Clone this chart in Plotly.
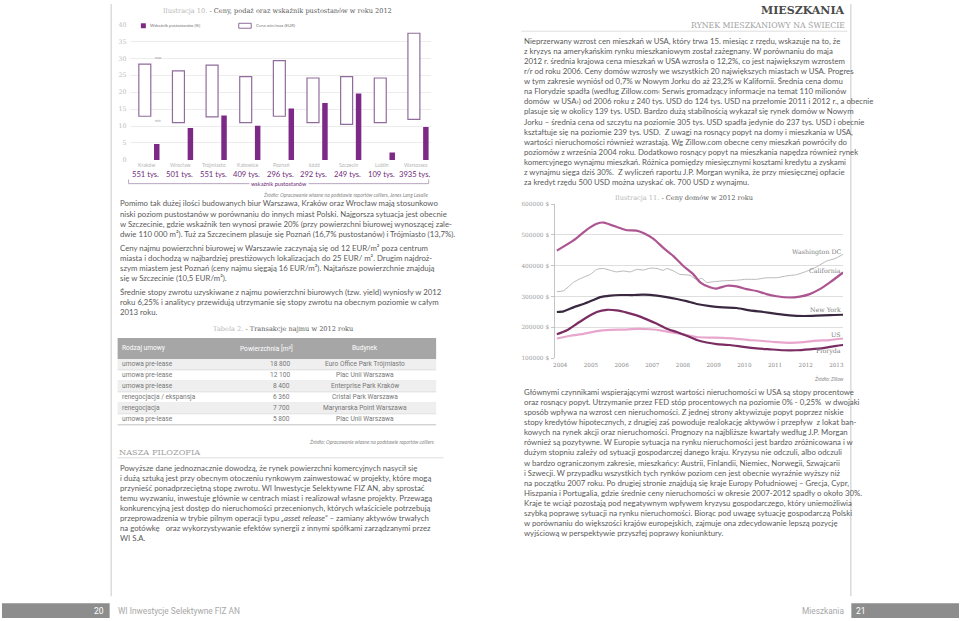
import plotly.graph_objects as go

W, H = 960, 621
SERIF = "DejaVu Serif"
BODY = "Lato"
NARROW = "Liberation Sans Narrow, Roboto, sans-serif"
TXT = "#5a5a5a"

# ---------------- Chart 1 data ----------------
cities = ["Kraków", "Wrocław", "Trójmiasto", "Katowice", "Poznań", "Łódź", "Szczecin", "Lublin", "Warszawa"]
supply = ["551 tys.", "501 tys.", "551 tys.", "409 tys.", "296 tys.", "292 tys.", "249 tys.", "109 tys.", "3935 tys."]
price_min = [12.9, 11.0, 12.7, 11.0, 12.9, 11.0, 10.5, 11.0, 12.0]
price_max = [28.3, 26.3, 28.0, 24.6, 29.3, 24.2, 24.6, 24.2, 37.4]
vacancy = [4.7, 9.4, 13.1, 10.1, 15.2, 16.8, 19.6, 2.2, 9.7]
y1_ticks = [0, 5, 10, 15, 20, 25, 30, 35, 40]

# ---------------- Chart 2 data ----------------
years = [2004, 2005, 2006, 2007, 2008, 2009, 2010, 2011, 2012, 2013]
price_ticks = [100000, 200000, 300000, 400000, 500000, 600000]

cal_x = [2003.89, 2004.43, 2004.87, 2005.19, 2005.41, 2005.95, 2006.17, 2006.49, 2006.71, 2007.04,
         2007.36, 2007.69, 2008.01, 2008.34, 2008.56, 2008.88, 2009.10, 2009.42, 2009.75, 2010.07,
         2010.40, 2010.72, 2011.05, 2011.48, 2011.81, 2012.13, 2012.46, 2012.79, 2013.22]
cal_y = [449, 482, 517, 536, 540, 522, 515, 514, 506, 487,
         458, 431, 399, 372, 346, 330, 326, 335, 333, 324,
         318, 308, 301, 297, 300, 308, 324, 346, 378]

dc_x = [2003.89, 2004.11, 2004.43, 2004.65, 2004.98, 2005.19, 2005.41, 2005.63, 2005.84, 2006.06,
        2006.28, 2006.49, 2006.71, 2006.93, 2007.15, 2007.36, 2007.47, 2007.69, 2007.90, 2008.23,
        2008.45, 2008.61, 2008.77, 2008.99, 2009.31, 2009.75, 2010.07, 2010.40, 2010.72, 2011.05,
        2011.38, 2011.70, 2012.03, 2012.35, 2012.68, 2012.95, 2013.22]
dc_y = [316, 319, 346, 358, 372, 388, 391, 385, 380, 383,
        380, 388, 386, 392, 391, 385, 391, 383, 372, 369,
        354, 359, 346, 348, 351, 353, 356, 356, 361, 361,
        367, 371, 382, 396, 415, 423, 437]

ny_x = [2003.89, 2004.11, 2004.43, 2004.76, 2005.08, 2005.30, 2005.63, 2005.95, 2006.39, 2006.71,
        2007.15, 2007.47, 2007.80, 2008.12, 2008.45, 2008.88, 2009.31, 2009.75, 2010.18, 2010.62,
        2011.05, 2011.48, 2011.92, 2012.35, 2012.79, 2013.22]
ny_y = [250, 252, 265, 276, 289, 298, 303, 305, 305, 306,
        303, 298, 292, 285, 276, 269, 265, 263, 255, 250,
        244, 239, 237, 238, 240, 241]

fl_x = [2003.89, 2004.22, 2004.54, 2004.87, 2005.19, 2005.52, 2005.84, 2006.17, 2006.49, 2006.82,
        2007.15, 2007.47, 2007.80, 2008.12, 2008.45, 2008.77, 2009.10, 2009.53, 2009.97, 2010.40,
        2010.83, 2011.27, 2011.70, 2012.13, 2012.57, 2013.00, 2013.22]
fl_y = [178, 191, 212, 233, 250, 257, 255, 248, 239, 226,
        212, 196, 185, 173, 159, 151, 146, 143, 137, 132,
        129, 126, 126, 129, 133, 140, 143]

us_x = [2003.89, 2004.33, 2004.76, 2005.19, 2005.63, 2006.06, 2006.49, 2006.93, 2007.36, 2007.80,
        2008.12, 2008.45, 2008.88, 2009.31, 2009.75, 2010.18, 2010.62, 2011.05, 2011.48, 2011.92,
        2012.35, 2012.79, 2013.22]
us_y = [164, 173, 179, 188, 192, 193, 195, 194, 189, 181,
        175, 169, 167, 166, 163, 159, 156, 152, 150, 152,
        157, 159, 164]

# ---------------- Table data ----------------
tab_header = ["Rodzaj umowy", "Powierzchnia [m²]", "Budynek"]
tab_type = ["umowa pre-lease", "umowa pre-lease", "umowa pre-lease", "renegocjacja / ekspansja",
            "renegocjacja", "umowa pre-lease"]
tab_area = ["18 800", "12 100", "8 400", "6 360", "7 700", "5 800"]
tab_building = ["Euro Office Park Trójmiasto", "Plac Unii Warszawa", "Enterprise Park Kraków",
                "Cristal Park Warszawa", "Marynarska Point Warszawa", "Plac Unii Warszawa"]

# ---------------- Text ----------------
left_p1 = ["Pomimo tak dużej ilości budowanych biur Warszawa, Kraków oraz Wrocław mają stosunkowo",
           "niski poziom pustostanów w porównaniu do innych miast Polski. Najgorsza sytuacja jest obecnie",
           "w Szczecinie, gdzie wskaźnik ten wynosi prawie 20% (przy powierzchni biurowej wynoszącej zale-",
           "dwie 110 000 m²). Tuż za Szczecinem plasuje się Poznań (16,7% pustostanów) i Trójmiasto (13,7%)."]
left_p2 = ["Ceny najmu powierzchni biurowej w Warszawie zaczynają się od 12 EUR/m² poza centrum",
           "miasta i dochodzą w najbardziej prestiżowych lokalizacjach do 25 EUR/ m². Drugim najdroż-",
           "szym miastem jest Poznań (ceny najmu sięgają 16 EUR/m²). Najtańsze powierzchnie znajdują",
           "się w Szczecinie (10,5 EUR/m²)."]
left_p3 = ["Średnie stopy zwrotu uzyskiwane z najmu powierzchni biurowych (tzw. yield) wyniosły w 2012",
           "roku 6,25% i analitycy przewidują utrzymanie się stopy zwrotu na obecnym poziomie w całym",
           "2013 roku."]
left_p4 = ["Powyższe dane jednoznacznie dowodzą, że rynek powierzchni komercyjnych nasycił się",
           "i dużą sztuką jest przy obecnym otoczeniu rynkowym zainwestować w projekty, które mogą",
           "przynieść ponadprzeciętną stopę zwrotu. WI Inwestycje Selektywne FIZ AN, aby sprostać",
           "temu wyzwaniu, inwestuje głównie w centrach miast i realizował własne projekty. Przewagą",
           "konkurencyjną jest dostęp do nieruchomości przecenionych, których właściciele potrzebują",
           "przeprowadzenia w trybie pilnym operacji typu <i>„asset release”</i> – zamiany aktywów trwałych",
           "na gotówkę   oraz wykorzystywanie efektów synergii z innymi spółkami zarządzanymi przez",
           "WI S.A."]
right_p1 = ["Nieprzerwany wzrost cen mieszkań w USA, który trwa 15. miesiąc z rzędu, wskazuje na to, że",
            "z kryzys na amerykańskim rynku mieszkaniowym został zażegnany. W porównaniu do maja",
            "2012 r. średnia krajowa cena mieszkań w USA wzrosła o 12,2%, co jest największym wzrostem",
            "r/r od roku 2006. Ceny domów wzrosły we wszystkich 20 największych miastach w USA. Progres",
            "w tym zakresie wyniósł od 0,7% w Nowym Jorku do aż 23,2% w Kalifornii. Średnia cena domu",
            "na Florydzie spadła (według Zillow.com‹ Serwis gromadzący informacje na temat 110 milionów",
            "domów  w USA›) od 2006 roku z 240 tys. USD do 124 tys. USD na przełomie 2011 i 2012 r., a obecnie",
            "plasuje się w okolicy 139 tys. USD. Bardzo dużą stabilnością wykazał się rynek domów w Nowym",
            "Jorku – średnia cena od szczytu na poziomie 305 tys. USD spadła jedynie do 237 tys. USD i obecnie",
            "kształtuje się na poziomie 239 tys. USD.  Z uwagi na rosnący popyt na domy i mieszkania w USA,",
            "wartości nieruchomości również wzrastają. Wg Zillow.com obecne ceny mieszkań powróciły do",
            "poziomów z września 2004 roku. Dodatkowo rosnący popyt na mieszkania napędza również rynek",
            "komercyjnego wynajmu mieszkań. Różnica pomiędzy miesięcznymi kosztami kredytu a zyskami",
            "z wynajmu sięga dziś 30%.  Z wyliczeń raportu J.P. Morgan wynika, że przy miesięcznej opłacie",
            "za kredyt rzędu 500 USD można uzyskać ok. 700 USD z wynajmu."]
right_p2 = ["Głównymi czynnikami wspierającymi wzrost wartości nieruchomości w USA są stopy procentowe",
            "oraz rosnący popyt. Utrzymanie przez FED stóp procentowych na poziomie 0% - 0,25%  w dwojaki",
            "sposób wpływa na wzrost cen nieruchomości. Z jednej strony aktywizuje popyt poprzez niskie",
            "stopy kredytów hipotecznych, z drugiej zaś powoduje realokację aktywów i przepływ  z lokat ban-",
            "kowych na rynek akcji oraz nieruchomości. Prognozy na najbliższe kwartały według J.P. Morgan",
            "również są pozytywne. W Europie sytuacja na rynku nieruchomości jest bardzo zróżnicowana i w",
            "dużym stopniu zależy od sytuacji gospodarczej danego kraju. Kryzysu nie odczuli, albo odczuli",
            "w bardzo ograniczonym zakresie, mieszkańcy: Austrii, Finlandii, Niemiec, Norwegii, Szwajcarii",
            "i Szwecji. W przypadku wszystkich tych rynków poziom cen jest obecnie wyraźnie wyższy niż",
            "na początku 2007 roku. Po drugiej stronie znajdują się kraje Europy Południowej – Grecja, Cypr,",
            "Hiszpania i Portugalia, gdzie średnie ceny nieruchomości w okresie 2007-2012 spadły o około 30%.",
            "Kraje te wciąż pozostają pod negatywnym wpływem kryzysu gospodarczego, który uniemożliwia",
            "szybką poprawę sytuacji na rynku nieruchomości. Biorąc pod uwagę sytuację gospodarczą Polski",
            "w porównaniu do większości krajów europejskich, zajmuje ona zdecydowanie lepszą pozycję",
            "wyjściową w perspektywie przyszłej poprawy koniunktury."]

BODY_SIZE = 7.8

annotations = []
shapes = []


def px(x):
    return x / W


def py(y):
    return 1 - y / H


def note(x, y, text, size, color, family=BODY, xanchor="left", **kw):
    d = dict(xref="paper", yref="paper", x=px(x), y=py(y), text=text, showarrow=False,
             xanchor=xanchor, yanchor="middle", font=dict(size=size, color=color, family=family))
    d.update(kw)
    annotations.append(d)


def para(lines, x, y0, dy, size=BODY_SIZE, color=TXT):
    for i, t in enumerate(lines):
        note(x, y0 + i * dy, t, size, color)


def hline(x0, x1, y, color, width=1):
    shapes.append(dict(type="line", xref="paper", yref="paper", x0=px(x0), x1=px(x1),
                       y0=py(y), y1=py(y), line=dict(color=color, width=width)))


def vline(x, y0, y1, color, width=1):
    shapes.append(dict(type="line", xref="paper", yref="paper", x0=px(x), x1=px(x),
                       y0=py(y0), y1=py(y1), line=dict(color=color, width=width)))


def rect(x0, x1, y0, y1, fill, line=None):
    shapes.append(dict(type="rect", xref="paper", yref="paper", x0=px(x0), x1=px(x1),
                       y0=py(y1), y1=py(y0), fillcolor=fill,
                       line=dict(color=line or fill, width=1 if line else 0)))


fig = go.Figure()

# ---------------- Chart 1 ----------------
BOX_W = 0.356
BAR_W = 0.163
fig.add_trace(go.Bar(
    x=cities, y=[mx - mn for mx, mn in zip(price_max, price_min)], base=price_min,
    width=BOX_W, offset=-BOX_W, marker=dict(color="white", line=dict(color="#8f6c9b", width=1.2)),
    xaxis="x", yaxis="y", showlegend=False, name="Cena min/max (EUR)"))
fig.add_trace(go.Bar(
    x=cities, y=vacancy, width=BAR_W, offset=0.096, marker=dict(color="#7c2a86", line=dict(width=0)),
    xaxis="x", yaxis="y", showlegend=False, name="Wskaźnik pustostanów (%)"))

for c, s in zip(cities, supply):
    annotations.append(dict(xref="x", yref="paper", x=c, y=py(163), xshift=-4, text=c, showarrow=False,
                            xanchor="center", yanchor="middle",
                            font=dict(size=5.2, color="#b5b5b5", family=BODY)))
    annotations.append(dict(xref="x", yref="paper", x=c, y=py(172), xshift=-5, text=s, showarrow=False,
                            xanchor="center", yanchor="middle",
                            font=dict(size=7.6, color="#6e2c78", family=BODY)))

annotations.append(dict(xref="x", yref="y", x=cities[0], y=price_max[0], xshift=2, yshift=2, text="max",
                        showarrow=False, xanchor="left", yanchor="bottom",
                        font=dict(size=3.5, color="#999", family=BODY)))
annotations.append(dict(xref="x", yref="y", x=cities[0], y=price_min[0], xshift=2, yshift=-1, text="min",
                        showarrow=False, xanchor="left", yanchor="top",
                        font=dict(size=3.5, color="#999", family=BODY)))

# legend (manual)
rect(139.3, 144.3, 19.5, 24.5, "#7c2a86")
note(146.5, 22, "Wskaźnik pustostanów (%)", 4.3, "#777")
rect(237.5, 250, 19.5, 24.5, "white", "#8f6c9b")
note(253, 22, "Cena min/max (EUR)", 4.3, "#777")

note(276, 7.5, "<span style='color:#b8b8b8'>Ilustracja 10.</span> - Ceny, podaż oraz wskaźnik pustostanów w roku 2012",
     6.6, "#5a5a5a", family=SERIF, xanchor="center")

# bracket
hline(127, 428, 181.7, "#b9a6c0", 1)
vline(127, 181.7, 177.5, "#b9a6c0", 1)
vline(428, 181.7, 177.5, "#b9a6c0", 1)
note(278, 181.5, "wskaźnik pustostanów", 5.6, "#6e2c78", xanchor="center", bgcolor="white", borderpad=1)
note(429, 192.5, "<i>Źródło: Opracowanie własne na podstawie raportów colliers, Jones Lang Lasalle</i>",
     5.0, "#888", xanchor="right")

# ---------------- Text left ----------------
para(left_p1, 116.5, 201.7, 10.2)
para(left_p2, 116.5, 246.6, 10.2)
para(left_p3, 116.5, 291.5, 10.2)

# ---------------- Table ----------------
note(282, 328.3, "<span style='color:#b8b8b8'>Tabela 2.</span> - Transakcje najmu w 2012 roku",
     6.6, "#5a5a5a", family=SERIF, xanchor="center")
TX0, TX1 = 116, 435.5
HEAD_TOP, HEAD_BOT = 337.7, 359.0
ROW_H = 11.1
col_x = [118.5, 291.0, 364.0]
col_anchor = ["left", "right", "center"]
rect(TX0, TX1, HEAD_TOP, HEAD_BOT, "#a6a6a6")
for hx, ha, ht in zip(col_x, col_anchor, tab_header):
    note(hx + (3 if ha == "right" else 0), (HEAD_TOP + HEAD_BOT) / 2, ht, 6.6, "white", family=NARROW, xanchor=ha)
for r in range(len(tab_type)):
    top = HEAD_BOT + r * ROW_H
    if r % 2 == 0:
        rect(TX0, TX1, top, top + ROW_H, "#efefef")
    hline(TX0, TX1, top + ROW_H, "#b0b0b0" if r == len(tab_type) - 1 else "#dadada", 0.8)
    for hx, ha, val in zip(col_x, col_anchor, [tab_type[r], tab_area[r], tab_building[r]]):
        note(hx, top + ROW_H / 2, val, 6.6, "#777777", family=NARROW, xanchor=ha)
note(435, 442.7, "<i>Źródło: Opracowanie własne na podstawie raportów colliers</i>", 5.0, "#888", xanchor="right")

note(115.5, 453, "NASZA FILOZOFIA", 8.2, "#a0a0a0", family=SERIF)
hline(116, 443, 459, "#dedede", 1)
para(left_p4, 116.5, 468.8, 10.15)

# ---------------- Right page ----------------
note(848, 6.5, "<b>MIESZKANIA</b>", 11, "#4a4a4a", family=SERIF, xanchor="right")
note(848, 21.5, "RYNEK MIESZKANIOWY NA ŚWIECIE", 7.8, "#a0a0a0", family=SERIF, xanchor="right")
hline(521, 848, 27.5, "#dedede", 1)
para(right_p1, 521.5, 37.3, 10.2)

note(684, 196.5, "<span style='color:#b8b8b8'>Ilustracja 11.</span> - Ceny domów w 2012 roku",
     6.6, "#5a5a5a", family=SERIF, xanchor="center")

series = [
    ("Washington DC", dc_x, dc_y, "#b8b8b8", 1.0, 445),
    ("US", us_x, us_y, "#e8a6cd", 2.2, 177),
    ("Floryda", fl_x, fl_y, "#7b2c62", 2.2, 125),
    ("New York", ny_x, ny_y, "#3a2840", 2.2, 258),
    ("California", cal_x, cal_y, "#ad5591", 2.2, 385),
]
for name, xs, ys, col, w, lab_y in series:
    fig.add_trace(go.Scatter(x=xs, y=[v * 1000 for v in ys], mode="lines", name=name,
                             line=dict(color=col, width=w, shape="spline", smoothing=0.6),
                             xaxis="x2", yaxis="y2", showlegend=False))
    annotations.append(dict(xref="x2", yref="y2", x=2013.21, y=lab_y * 1000, text=name, showarrow=False,
                            xanchor="right", yanchor="middle",
                            font=dict(size=6.3, color="#808080", family=SERIF)))

note(847, 379, "<i>Źródło: Zillow</i>", 5.0, "#888", xanchor="right")
para(right_p2, 521.5, 392, 10.25)

# ---------------- Page furniture ----------------
vline(109.5, 0, 599, "#d2d2d2", 1.2)
vline(851.5, 0, 599, "#d2d2d2", 1.2)
rect(0, 108, 606, 621, "#8d8d8d")
rect(852, 960, 606, 621, "#8d8d8d")
note(104, 613.5, "20", 8.5, "white", family=NARROW, xanchor="right")
note(855, 613.5, "21", 8.5, "white", family=NARROW)
note(114, 613.5, "WI Inwestycje Selektywne FIZ AN", 8.3, "#a8a8a8", family=NARROW)
note(847, 613.5, "Mieszkania", 8.3, "#a8a8a8", family=NARROW, xanchor="right")

fig.update_layout(
    width=W, height=H, margin=dict(l=0, r=0, t=0, b=0),
    paper_bgcolor="white", plot_bgcolor="rgba(0,0,0,0)",
    barmode="overlay", showlegend=False,
    annotations=annotations, shapes=shapes,
    xaxis=dict(domain=[px(128), px(430)], type="category", range=[-0.63, 8.32],
               showticklabels=False, showgrid=False, zeroline=False, showline=False, ticks="",
               fixedrange=True),
    yaxis=dict(domain=[py(157.7), py(20.7)], range=[0, 40], tickvals=y1_ticks,
               showgrid=True, gridcolor="#ececec", gridwidth=1, zeroline=False, showline=False,
               ticks="", tickfont=dict(size=6.3, color="#bdbdbd", family=SERIF), ticklabelstandoff=2),
    xaxis2=dict(domain=[px(555), px(843.7)], range=[2003.838, 2013.218], anchor="y2",
                tickvals=years, ticktext=[str(y) for y in years], showgrid=False, zeroline=False,
                showline=False, ticks="", tickfont=dict(size=5.6, color="#8a8a8a", family=SERIF),
                ticklabelstandoff=2),
    yaxis2=dict(domain=[py(358.3), py(202.3)], range=[100000, 600000], anchor="x2",
                tickvals=price_ticks, ticktext=[f"{v} $" for v in price_ticks],
                showgrid=True, gridcolor="#dedede", gridwidth=1.2, zeroline=False,
                showline=True, linecolor="#c4c4c4", linewidth=1, ticks="outside", ticklen=3,
                tickcolor="#c4c4c4", tickfont=dict(size=5.8, color="#a0a0a0", family=SERIF),
                ticklabelstandoff=1),
)

fig.write_html("out.html", config={"displayModeBar": False},
               post_script="document.body.style.margin='0px';document.body.style.overflow='hidden';")
